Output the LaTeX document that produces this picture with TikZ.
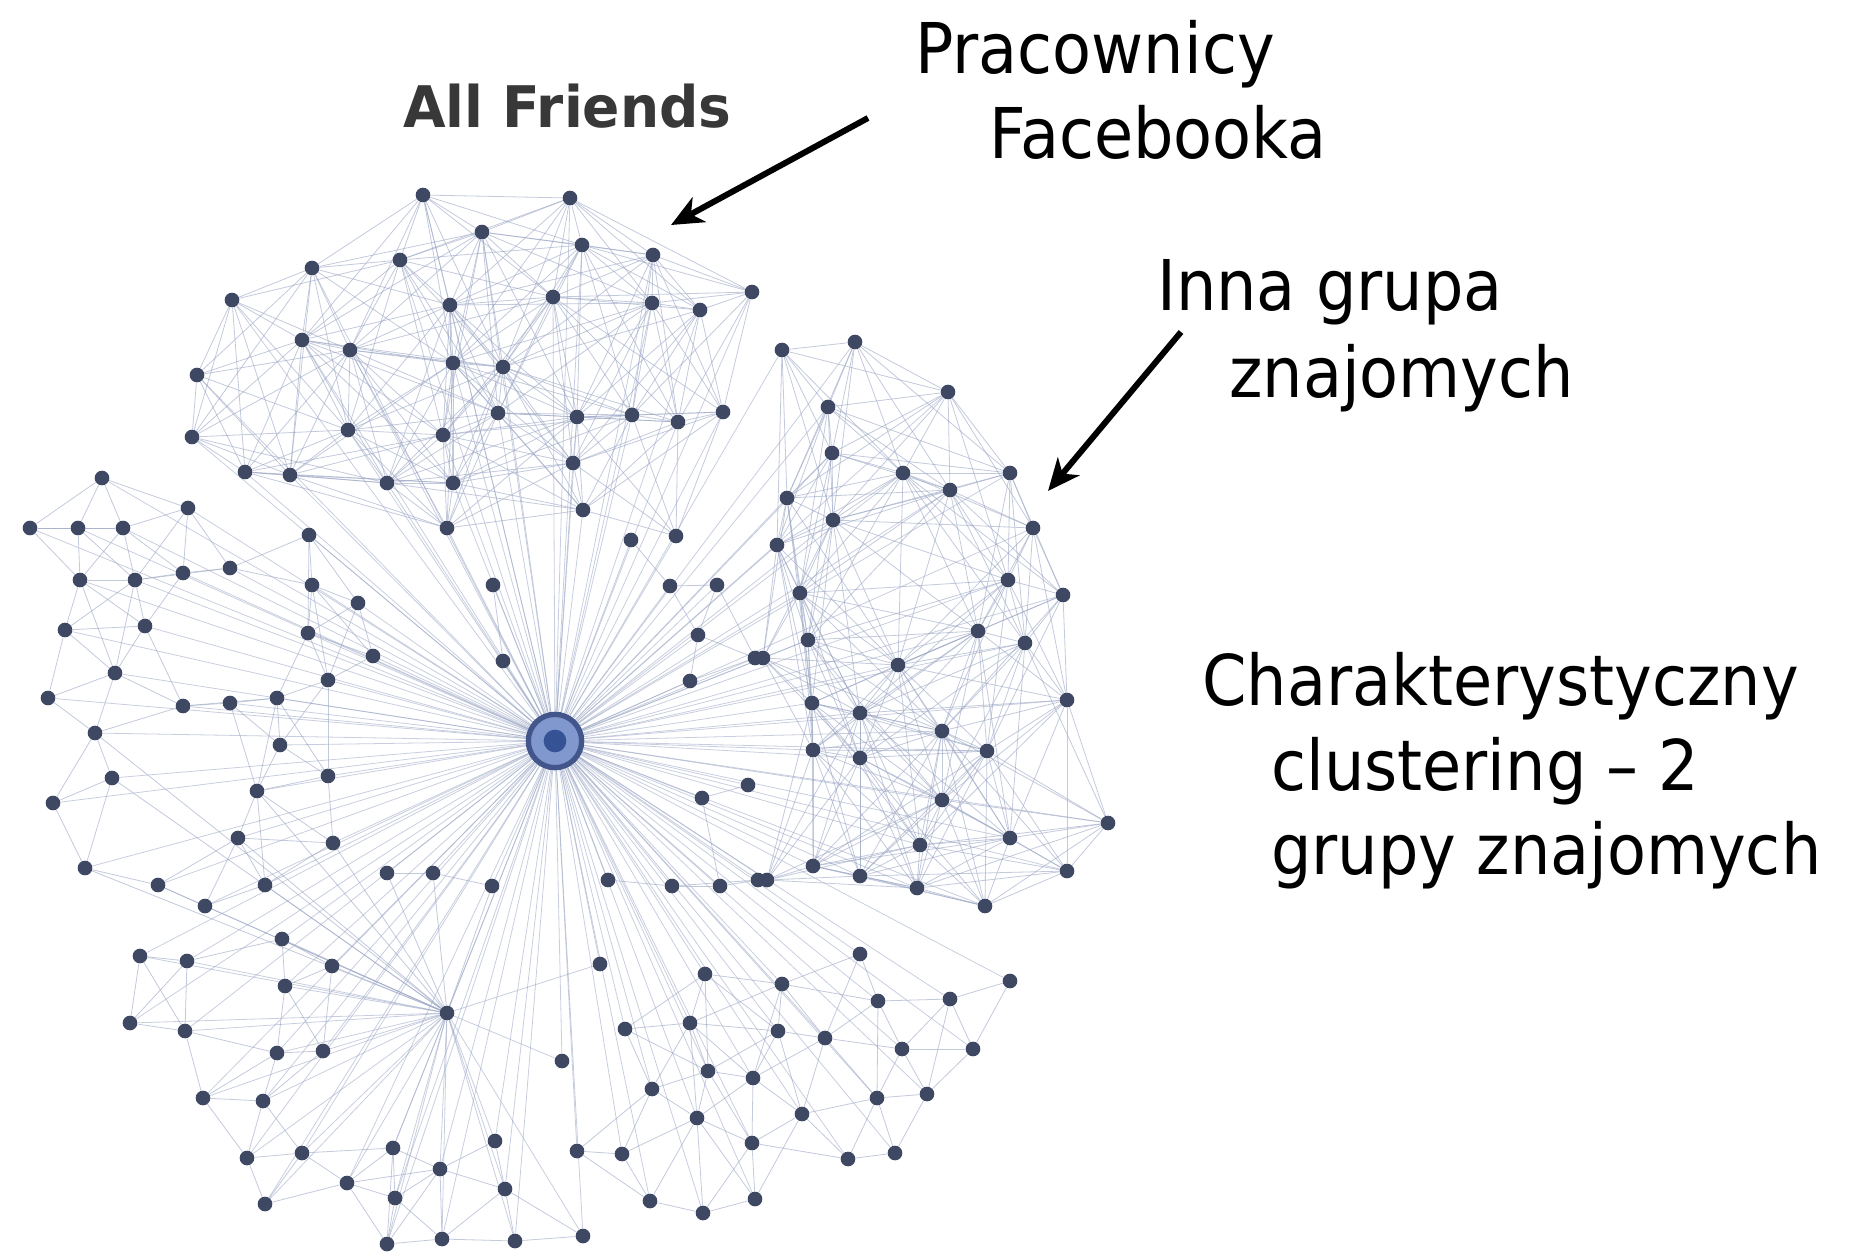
\documentclass[tikz,border=0pt]{standalone}
\usepackage{fontspec}
\setmainfont{DejaVu Sans}[FakeStretch=0.91]
\newfontfamily\headfont{DejaVu Sans}[FakeStretch=0.96]
\usetikzlibrary{arrows.meta}
\pgfdeclarelayer{edges}
\pgfsetlayers{edges,main}
\definecolor{dotcol}{RGB}{62,72,98}
\definecolor{linkcol}{RGB}{155,166,196}
\definecolor{ringdark}{RGB}{66,86,140}
\definecolor{ringlight}{RGB}{128,152,205}
\definecolor{coredark}{RGB}{52,82,148}

% friends of each group: index/x/y (pixels, y downwards)
\def\groupT{1/423/195, 2/570/198, 3/482/232, 4/582/245, 5/653/255, 6/752/292,
 7/400/260, 8/312/268, 9/450/305, 10/553/297, 11/652/303, 12/700/310,
 13/232/300, 14/302/340, 15/350/350, 16/453/363, 17/503/367, 18/197/375,
 19/498/413, 20/577/417, 21/632/415, 22/678/422, 23/723/412, 24/348/430,
 25/443/435, 26/192/437, 27/245/472, 28/290/475, 29/387/483, 30/453/483,
 31/573/463, 32/583/510, 33/447/528, 34/676/536}
\def\groupR{1/782/350, 2/855/342, 3/948/392, 4/828/407, 5/832/453, 6/903/473,
 7/1010/473, 8/950/490, 9/787/498, 10/833/520, 11/1033/528, 12/777/545,
 13/1008/580, 14/1063/595, 15/800/593, 16/978/631, 17/1025/643, 18/808/640,
 19/763/658, 20/898/665, 21/1067/700, 22/812/703, 23/860/713, 24/942/731,
 25/813/750, 26/860/758, 27/987/751, 28/942/800, 29/1108/823, 30/1010/838,
 31/920/845, 32/813/866, 33/860/876, 34/1067/871, 35/767/880, 36/917/888,
 37/985/906}
\def\groupM{1/493/585, 2/503/661, 3/631/540, 5/670/586, 6/717/585,
 7/698/635, 8/755/658, 9/690/681, 10/748/785, 11/702/798, 12/387/873,
 13/433/873, 14/492/886, 15/608/880, 16/672/886, 17/720/886, 18/758/880}
\def\groupL{1/30/528, 2/78/528, 3/123/528, 4/188/508, 5/102/478, 6/309/535,
 7/80/580, 8/135/580, 9/183/573, 10/230/568, 11/312/585, 12/358/603,
 13/65/630, 14/145/626, 15/308/633, 16/373/656, 17/115/673, 18/328/680,
 19/48/698, 20/183/706, 21/230/703, 22/277/698, 23/95/733, 24/280/745,
 25/112/778, 26/328/776, 27/257/791, 28/53/803, 29/238/838, 30/333/843,
 31/85/868, 32/158/885, 33/265/885, 34/205/906}
\def\groupB{1/282/939, 2/140/956, 3/187/961, 4/332/966, 5/285/986, 6/130/1023,
 7/185/1031, 8/277/1053, 9/323/1051, 10/203/1098, 11/263/1101, 12/247/1158,
 13/302/1153, 14/347/1183, 15/265/1204, 16/393/1148, 17/495/1141, 18/440/1169,
 19/505/1189, 20/395/1198, 21/387/1244, 22/442/1239, 23/515/1241, 24/583/1236,
 25/562/1061, 26/600/964}
\def\groupD{1/705/974, 2/625/1029, 3/690/1023, 4/708/1071, 5/753/1078,
 6/652/1089, 7/697/1118, 8/577/1151, 9/622/1154, 10/752/1143, 11/650/1201,
 12/703/1213, 13/755/1199, 14/860/954, 15/782/984, 16/1010/981, 17/878/1001,
 18/950/999, 19/778/1031, 20/825/1038, 21/902/1049, 22/973/1049, 23/877/1098,
 24/927/1094, 25/802/1114, 26/848/1159, 27/895/1153}

% place the friends of one group as named dots
\newcommand\placegroup[2]{%
  \foreach \i/\x/\y in #2 {\node[friend] (#1\i) at (\x,\y) {};}}
% links between friends of one group that lie close together
\newcommand\meshgroup[3]{%
  \foreach \i/\xa/\ya in #2 {%
    \foreach \j/\xb/\yb in #2 {%
      \pgfmathtruncatemacro\linkok{(\i<\j)*(veclen((\xa-\xb)/100,(\ya-\yb)/100)<#3)}%
      \ifnum\linkok=1 \draw[link] (#1\i) -- (#1\j);\fi}}}
% links from a central person to every friend of one group
\newcommand\fangroup[3]{%
  \foreach \i/\x/\y in #3 {\draw[spoke] (#1) -- (#2\i);}}

\begin{document}
\begin{tikzpicture}[x=0.75pt,y=-0.75pt,
  friend/.style={circle,fill=dotcol,inner sep=0pt,minimum size=11pt},
  link/.style={draw=linkcol,line width=0.6pt,opacity=0.6},
  spoke/.style={draw=linkcol,line width=0.6pt,opacity=0.55},
  caption/.style={anchor=base west,inner sep=0pt,font=\fontsize{52.5}{63}\selectfont},
  pointer/.style={line width=4.5pt,-{Stealth[length=24pt,width=21pt,inset=7pt]}}]
\useasboundingbox (0,0) rectangle (1857,1258);

% the person whose friends are shown
\node[circle,draw=ringdark,line width=4pt,fill=ringlight,inner sep=0pt,
      minimum size=40pt] (hub) at (555,741) {};
\node[circle,fill=coredark,inner sep=0pt,minimum size=17pt] (hubcore) at (hub) {};
% a friend with many links in the lower part
\node[friend] (sub) at (447,1013) {};

\placegroup{T}{\groupT}
\placegroup{R}{\groupR}
\placegroup{M}{\groupM}
\placegroup{L}{\groupL}
\placegroup{B}{\groupB}
\placegroup{D}{\groupD}

\begin{pgfonlayer}{edges}
  \fangroup{hub}{T}{\groupT}
  \fangroup{hub}{R}{\groupR}
  \fangroup{hub}{M}{\groupM}
  \fangroup{hub}{L}{\groupL}
  \fangroup{hub}{B}{\groupB}
  \fangroup{hub}{D}{\groupD}
  \draw[spoke] (hub) -- (sub);
  \fangroup{sub}{B}{\groupB}
  \foreach \k in {23,25,27,29,30,31,32,33,34} {\draw[link] (sub) -- (L\k);}
  \foreach \k in {12,13,14} {\draw[link] (sub) -- (M\k);}
  \meshgroup{T}{\groupT}{2.1}
  \meshgroup{R}{\groupR}{2.1}
  \meshgroup{L}{\groupL}{1.0}
  \meshgroup{B}{\groupB}{1.0}
  \meshgroup{D}{\groupD}{1.0}
  \meshgroup{M}{\groupM}{0.9}
\end{pgfonlayer}

% title of the graph
\node[anchor=base west,inner sep=0pt,text=black!78,
      font=\headfont\bfseries\fontsize{43}{51}\selectfont] (title) at (403,127) {All Friends};

% captions
\node[caption] (cap1a) at (915,73) {Pracownicy};
\node[caption] (cap1b) at (989,158) {Facebooka};
\node[caption] (cap2a) at (1157,310) {Inna grupa};
\node[caption] (cap2b) at (1229,397) {znajomych};
\node[caption] (cap3a) at (1202,705) {Charakterystyczny};
\node[caption] (cap3b) at (1271,790) {clustering – 2};
\node[caption] (cap3c) at (1271,874) {grupy znajomych};

% pointers from the captions to the two groups
\coordinate (p1s) at (868,118);
\coordinate (p1e) at (671,225);
\coordinate (p2s) at (1181,332);
\coordinate (p2e) at (1048,491);
\draw[pointer] (p1s) -- (p1e);
\draw[pointer] (p2s) -- (p2e);
\end{tikzpicture}
\end{document}
